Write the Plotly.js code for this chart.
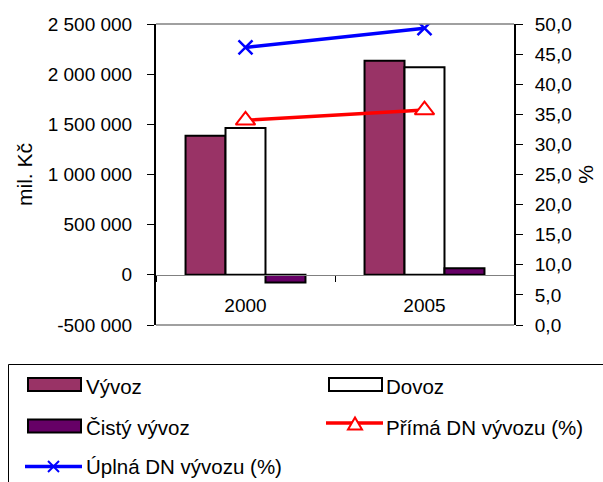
<!DOCTYPE html>
<html>
<head>
<meta charset="utf-8">
<script src="https://cdn.plot.ly/plotly-3.0.1.min.js"></script>
<style>html,body{margin:0;padding:0;background:#fff;}#chart{width:603px;height:482px;}</style>
</head>
<body>
<div id="chart"></div>
<script>
// ---- data ----
const years = ['2000', '2005'];
const vyvoz = [1386000, 2134000];
const dovoz = [1463000, 2068000];
const cistyVyvoz = [-77000, 66000];
const primaDN = [34.0, 35.7];
const uplnaDN = [46.1, 49.3];
const seriesNames = ['Vývoz', 'Dovoz', 'Čistý vývoz', 'Přímá DN vývozu (%)', 'Úplná DN vývozu (%)'];
const leftTickVals = [-500000, 0, 500000, 1000000, 1500000, 2000000, 2500000];
const leftTickText = ['-500 000', '0', '500 000', '1 000 000', '1 500 000', '2 000 000', '2 500 000'];
const leftRange = [-500000, 2500000];
const rightRange = [0, 50];

// ---- layout helpers ----
const W = 603, H = 482;
const PL = 156, PR = 514, PT = 24, PB = 325;
const X = px => (px - PL) / (PR - PL);
const Y = py => (PB - py) / (PB - PT);
const FONT = 'Liberation Sans, Arial, sans-serif';

const traces = [
  {type: 'bar', name: seriesNames[0], x: years, y: vyvoz,
   marker: {color: '#993366', line: {color: '#000', width: 2}}},
  {type: 'bar', name: seriesNames[1], x: years, y: dovoz,
   marker: {color: '#ffffff', line: {color: '#000', width: 2}}},
  {type: 'bar', name: seriesNames[2], x: years, y: cistyVyvoz,
   marker: {color: '#660066', line: {color: '#000', width: 2}}},
  {type: 'scatter', mode: 'lines+markers', name: seriesNames[3], x: years, y: primaDN, yaxis: 'y2',
   line: {color: '#ff0000', width: 3.5},
   marker: {symbol: 'triangle-up', size: 17, color: '#ffffff', line: {color: '#ff0000', width: 2}}},
  {type: 'scatter', mode: 'lines+markers', name: seriesNames[4], x: years, y: uplnaDN, yaxis: 'y2',
   line: {color: '#0000ff', width: 3.5},
   marker: {symbol: 'x-thin-open', size: 14, color: '#0000ff', line: {color: '#0000ff', width: 2.5}}}
];

const zeroPos = (0 - leftRange[0]) / (leftRange[1] - leftRange[0]);

const shapes = [
  {type: 'line', xref: 'paper', yref: 'paper', x0: 0, x1: 1, y0: 1, y1: 1, line: {color: '#808080', width: 1.5}},
  {type: 'line', xref: 'paper', yref: 'paper', x0: 0, x1: 1, y0: 0, y1: 0, line: {color: '#808080', width: 1.5}},
  {type: 'rect', xref: 'paper', yref: 'paper', x0: X(8.5), x1: X(640), y0: Y(364.5), y1: Y(520),
   line: {color: '#000', width: 1}, fillcolor: 'rgba(0,0,0,0)'},
  {type: 'rect', xref: 'paper', yref: 'paper', x0: X(28), x1: X(81), y0: Y(378), y1: Y(391),
   line: {color: '#000', width: 2}, fillcolor: '#993366'},
  {type: 'rect', xref: 'paper', yref: 'paper', x0: X(329), x1: X(382), y0: Y(378), y1: Y(391),
   line: {color: '#000', width: 2}, fillcolor: '#ffffff'},
  {type: 'rect', xref: 'paper', yref: 'paper', x0: X(28), x1: X(81), y0: Y(419.5), y1: Y(432.5),
   line: {color: '#000', width: 2}, fillcolor: '#660066'},
  {type: 'line', xref: 'paper', yref: 'paper', x0: X(326), x1: X(383), y0: Y(423), y1: Y(423),
   line: {color: '#ff0000', width: 3.5}},
  {type: 'path', xref: 'paper', yref: 'paper',
   path: `M${X(348)},${Y(429.5)} L${X(362)},${Y(429.5)} L${X(355)},${Y(417.5)} Z`,
   line: {color: '#ff0000', width: 2}, fillcolor: '#ffffff'},
  {type: 'line', xref: 'paper', yref: 'paper', x0: X(25), x1: X(82), y0: Y(466.5), y1: Y(466.5),
   line: {color: '#0000ff', width: 3.5}},
  {type: 'line', xref: 'paper', yref: 'paper', x0: X(48), x1: X(59), y0: Y(461), y1: Y(472),
   line: {color: '#0000ff', width: 2}},
  {type: 'line', xref: 'paper', yref: 'paper', x0: X(48), x1: X(59), y0: Y(472), y1: Y(461),
   line: {color: '#0000ff', width: 2}}
];

const legFont = {family: FONT, size: 20.5, color: '#000'};
const ann = (txt, px, py) => ({text: txt, xref: 'paper', yref: 'paper', x: X(px), y: Y(py),
  xanchor: 'left', yanchor: 'middle', showarrow: false, font: legFont, borderpad: 0});
const annotations = [
  ann(seriesNames[0], 85, 386),
  ann(seriesNames[1], 385, 386),
  ann(seriesNames[2], 85, 427),
  ann(seriesNames[3], 385, 427),
  ann(seriesNames[4], 85, 466.5)
];

const tickFont = {family: FONT, size: 19, color: '#000'};

const layout = {
  width: W, height: H,
  margin: {l: PL, r: W - PR, t: PT, b: H - PB, pad: 0},
  paper_bgcolor: '#fff', plot_bgcolor: '#fff',
  separators: ', ',
  showlegend: false,
  barmode: 'group', bargap: 0.33, bargroupgap: 0,
  font: {family: FONT, color: '#000'},
  xaxis: {
    type: 'category', anchor: 'free', position: zeroPos,
    showline: true, linecolor: '#808080', linewidth: 1.5,
    ticks: 'outside', tickson: 'boundaries', ticklen: 6, tickcolor: '#000', tickwidth: 1,
    ticklabelstandoff: 13,
    tickfont: tickFont, showgrid: false, zeroline: false, fixedrange: true
  },
  yaxis: {
    range: leftRange, tickmode: 'array', tickvals: leftTickVals, ticktext: leftTickText,
    showline: true, linecolor: '#000', linewidth: 2,
    ticks: 'outside', ticklen: 7, tickcolor: '#000', tickwidth: 1,
    ticklabelstandoff: 11,
    tickfont: tickFont, showgrid: false, zeroline: false,
    title: {text: 'mil. Kč', font: {family: FONT, size: 21, color: '#000'}, standoff: 9}
  },
  yaxis2: {
    range: rightRange, dtick: 5, tick0: 0, tickformat: '.1f',
    overlaying: 'y', side: 'right',
    showline: true, linecolor: '#000', linewidth: 2,
    ticks: 'outside', ticklen: 7, tickcolor: '#000', tickwidth: 1,
    ticklabelstandoff: 8,
    tickfont: tickFont, showgrid: false, zeroline: false,
    title: {text: '%', font: {family: FONT, size: 21, color: '#000'}, standoff: 8}
  },
  shapes: shapes,
  annotations: annotations
};

Plotly.newPlot('chart', traces, layout, {staticPlot: true, displayModeBar: false});
</script>
</body>
</html>
